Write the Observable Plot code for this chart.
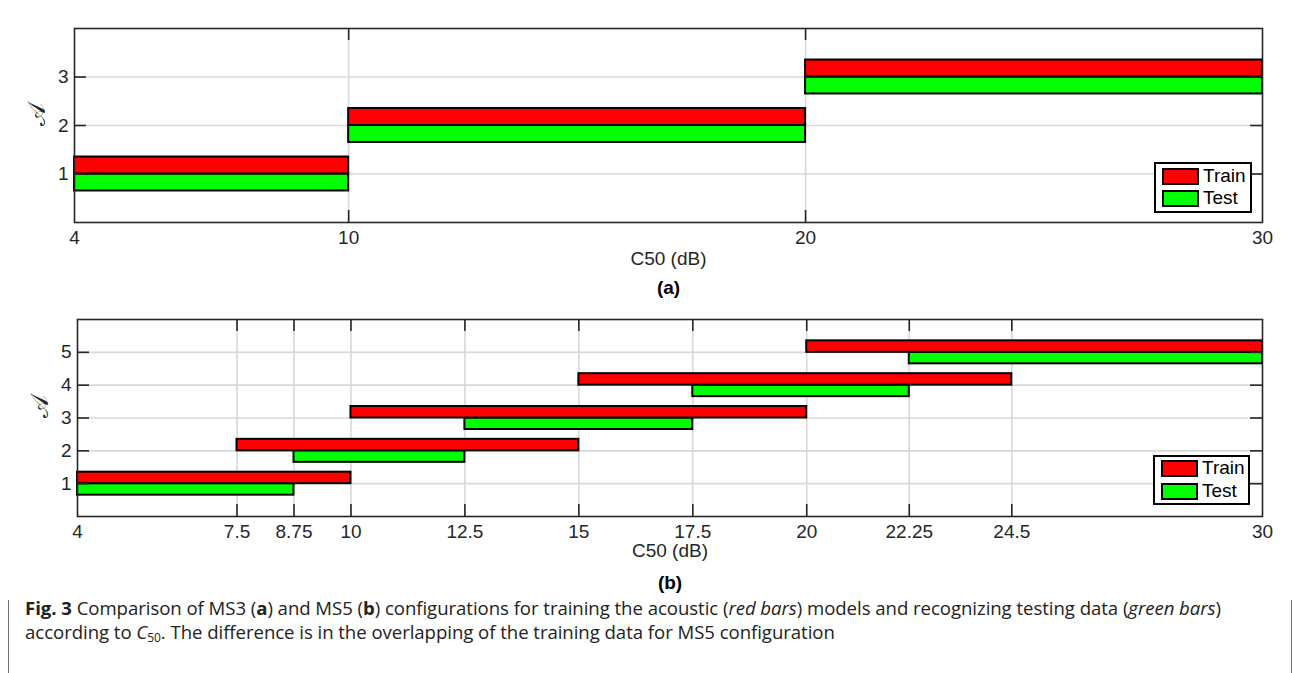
<!DOCTYPE html>
<html><head><meta charset="utf-8">
<script src="https://cdn.jsdelivr.net/npm/d3@7"></script>
<script src="https://cdn.jsdelivr.net/npm/@observablehq/plot@0.6"></script>
<style>
html,body{margin:0;padding:0;background:#fff}
body{width:1292px;height:673px;position:relative;overflow:hidden;font-family:"Liberation Sans",Arial,sans-serif}
#frame{position:absolute;left:8px;top:9px;width:1284px;height:720px;border:1px solid #707070;border-radius:10px;box-sizing:border-box}
.panel{position:absolute;left:0}
.legend{position:absolute;border:2px solid #000;background:#fff;box-sizing:border-box}
.legend .row{position:absolute;left:6px;height:18px;display:flex;align-items:center}
.legend .sw{width:37px;height:17px;border:2px solid #000;box-sizing:border-box}
.legend .lb{margin-left:4px;font-size:19px;color:#000;line-height:18px}
#caption{position:absolute;left:25px;top:596px;width:1260px;font-family:"Open Sans","Noto Sans",sans-serif;font-size:18.6px;line-height:24px;color:#222;letter-spacing:-0.05px;white-space:nowrap}
#caption sub{font-size:12px;line-height:0;vertical-align:-3px}
</style>
</head><body>
<div id="frame"></div>
<div id="top" class="panel" style="top:0"></div>
<div id="bot" class="panel" style="top:300px"></div>
<div id="caption"><b>Fig. 3</b> Comparison of MS3 (<b>a</b>) and MS5 (<b>b</b>) configurations for training the acoustic (<i>red bars</i>) models and recognizing testing data (<i>green bars</i>)<br>according to <i>C</i><sub>50</sub>. The difference is in the overlapping of the training data for MS5 configuration</div>
<script>
// ---- data ----
const seriesNames = ["Train", "Test"];
const seriesColors = ["#ff0000", "#00ff00"];
const xLabel = "C50 (dB)";
const yLabel = "𝒜";

// panel (a): MS3
const classesA = [1, 2, 3];
const trainStartA = [4, 10, 20];
const trainEndA = [10, 20, 30];
const testStartA = [4, 10, 20];
const testEndA = [10, 20, 30];
const xTicksA = [4, 10, 20, 30];
const yTicksA = [1, 2, 3];

// panel (b): MS5
const classesB = [1, 2, 3, 4, 5];
const trainStartB = [4, 7.5, 10, 15, 20];
const trainEndB = [10, 15, 20, 24.5, 30];
const testStartB = [4, 8.75, 12.5, 17.5, 22.25];
const testEndB = [8.75, 12.5, 17.5, 22.25, 30];
const xTicksB = [4, 7.5, 8.75, 10, 12.5, 15, 17.5, 20, 22.25, 24.5, 30];
const yTicksB = [1, 2, 3, 4, 5];

const xDomain = [4, 30];

function panel(cfg) {
  const {classes, trS, trE, teS, teE, xTicks, yTicks, yMax, mL, mT, mB, H, tag} = cfg;
  const W = 1292, mR = 30;
  const frameH = H - mT - mB, frameW = W - mL - mR;
  const half = 0.35, tick = 12;
  const rows = [];
  classes.forEach((c, i) => {
    rows.push({series: seriesNames[1], c, x1: teS[i], x2: teE[i]});
    rows.push({series: seriesNames[0], c, x1: trS[i], x2: trE[i]});
  });
  const innerX = xTicks.filter(v => v > xDomain[0] && v < xDomain[1]);
  const axisCol = "#262626";
  return Plot.plot({
    width: W, height: H, marginLeft: mL, marginRight: mR, marginTop: mT, marginBottom: mB,
    x: {domain: xDomain},
    y: {domain: [0, yMax]},
    color: {domain: seriesNames, range: seriesColors},
    style: {fontFamily: "Liberation Sans, Arial, sans-serif", fontSize: "19px", color: axisCol, background: "white", overflow: "visible"},
    marks: [
      Plot.gridX({ticks: innerX, stroke: "#d8d8d8", strokeOpacity: 1, strokeWidth: 1.6}),
      Plot.gridY({ticks: yTicks, stroke: "#d8d8d8", strokeOpacity: 1, strokeWidth: 1.6}),
      Plot.rect(rows, {
        x1: "x1", x2: "x2",
        y1: d => d.series === seriesNames[0] ? d.c : d.c - half,
        y2: d => d.series === seriesNames[0] ? d.c + half : d.c,
        fill: "series", stroke: "black", strokeWidth: 2
      }),
      Plot.ruleX(innerX, {stroke: axisCol, strokeWidth: 1.6, insetTop: frameH - tick}),
      Plot.ruleX(innerX, {stroke: axisCol, strokeWidth: 1.6, insetBottom: frameH - tick}),
      Plot.ruleY(yTicks, {stroke: axisCol, strokeWidth: 1.6, insetRight: frameW - tick}),
      Plot.ruleY(yTicks, {stroke: axisCol, strokeWidth: 1.6, insetLeft: frameW - tick}),
      Plot.frame({stroke: axisCol, strokeWidth: 1.6}),
      Plot.axisX({ticks: xTicks, tickFormat: d => `${d}`, tickSize: 0, tickPadding: 8, label: null, fill: axisCol, fontSize: 19}),
      Plot.axisY({ticks: yTicks, tickFormat: d => `${d}`, tickSize: 0, tickPadding: 6, label: null, fill: axisCol, fontSize: 19}),
      Plot.text([xLabel], {frameAnchor: "bottom", dy: cfg.labDy, fill: axisCol, fontSize: 19}),
      Plot.text([tag], {frameAnchor: "bottom", dy: cfg.tagDy, fill: "#000", fontSize: 19, fontWeight: "bold"}),
      Plot.text([yLabel], {frameAnchor: "left", dx: cfg.yDx, rotate: -90, fill: axisCol, fontSize: 24, fontFamily: "DejaVu Serif, serif"})
    ]
  });
}

document.getElementById("top").append(panel({
  classes: classesA, trS: trainStartA, trE: trainEndA, teS: testStartA, teE: testEndA,
  xTicks: xTicksA, yTicks: yTicksA, yMax: 4, mL: 74, mT: 28, mB: 78, H: 300, tag: "(a)",
  labDy: 42, tagDy: 71, yDx: -37
}));
document.getElementById("bot").append(panel({
  classes: classesB, trS: trainStartB, trE: trainEndB, teS: testStartB, teE: testEndB,
  xTicks: xTicksB, yTicks: yTicksB, yMax: 6, mL: 77, mT: 19, mB: 84, H: 300, tag: "(b)",
  labDy: 40, tagDy: 72, yDx: -37
}));

function legend(left, top, w, h, rowTops) {
  const div = document.createElement("div");
  div.className = "legend";
  Object.assign(div.style, {left: left + "px", top: top + "px", width: w + "px", height: h + "px"});
  seriesNames.forEach((name, i) => {
    const row = document.createElement("div");
    row.className = "row";
    row.style.top = rowTops[i] + "px";
    const sw = document.createElement("div");
    sw.className = "sw";
    sw.style.background = seriesColors[i];
    const lb = document.createElement("div");
    lb.className = "lb";
    lb.textContent = name;
    row.append(sw, lb);
    div.append(row);
  });
  document.body.append(div);
}
legend(1154, 162, 98, 51, [3, 25]);
legend(1153, 455, 97, 50, [2, 25]);
</script>
</body></html>
